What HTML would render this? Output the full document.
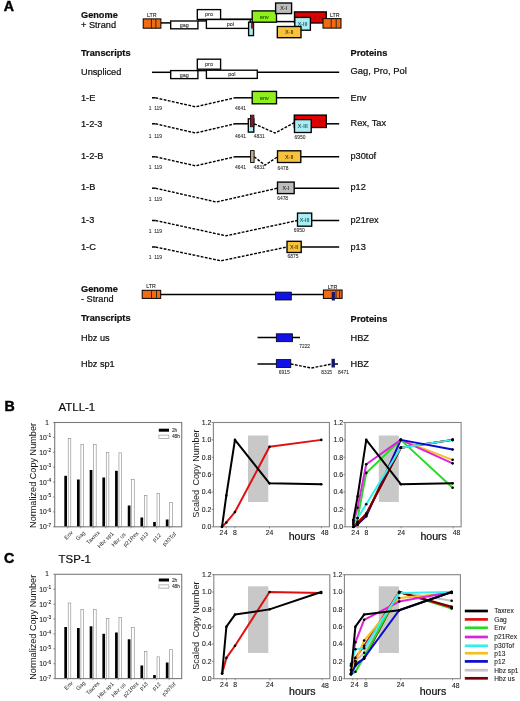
<!DOCTYPE html>
<html><head><meta charset="utf-8"><style>
html,body{margin:0;padding:0;background:#fff;width:520px;height:701px;overflow:hidden;}
svg{display:block;will-change:transform;}
text{font-family:"Liberation Sans", sans-serif;}
</style></head><body>
<svg width="520" height="701" viewBox="0 0 520 701">
<rect x="0" y="0" width="520" height="701" fill="#fff"/>
<text x="3.7" y="11.3" font-size="14.2" font-weight="bold" text-anchor="start" fill="#000"  stroke="#000" stroke-width="0.45">A</text>
<text x="81" y="17.6" font-size="9.2" font-weight="bold" text-anchor="start" fill="#111" stroke="#111" stroke-width="0.22" >Genome</text>
<text x="81" y="27.6" font-size="9.2" font-weight="normal" text-anchor="start" fill="#111" stroke="#111" stroke-width="0.22" >+ Strand</text>
<text x="81" y="56.3" font-size="9.2" font-weight="bold" text-anchor="start" fill="#111" stroke="#111" stroke-width="0.22" >Transcripts</text>
<text x="350.5" y="56.1" font-size="9.2" font-weight="bold" text-anchor="start" fill="#111" stroke="#111" stroke-width="0.22" >Proteins</text>
<line x1="160.9" y1="22.9" x2="170.7" y2="22.9" stroke="#000" stroke-width="1.5" />
<line x1="197.9" y1="20.9" x2="206.4" y2="20.9" stroke="#000" stroke-width="1.5" />
<line x1="220.6" y1="19.3" x2="252.2" y2="19.3" stroke="#000" stroke-width="1.5" />
<line x1="276.5" y1="21.6" x2="295" y2="21.6" stroke="#000" stroke-width="1.5" />
<rect x="143.2" y="18.9" width="17.70" height="9.30" fill="#f26b12" stroke="#000" stroke-width="1.0" />
<line x1="151.4" y1="18.9" x2="151.4" y2="28.2" stroke="#222" stroke-width="0.9" />
<line x1="155.9" y1="18.9" x2="155.9" y2="28.2" stroke="#222" stroke-width="0.9" />
<text x="151.8" y="16.8" font-size="5.3" font-weight="normal" text-anchor="middle" fill="#222" stroke="#222" stroke-width="0.1" >LTR</text>
<rect x="170.7" y="21.0" width="27.20" height="7.80" fill="#fff" stroke="#000" stroke-width="1.35" />
<text x="184.3" y="27.0" font-size="5.4" font-weight="normal" text-anchor="middle" fill="#333" stroke="#333" stroke-width="0.1" >gag</text>
<rect x="197.3" y="9.6" width="23.30" height="9.80" fill="#fff" stroke="#000" stroke-width="1.35" />
<text x="209" y="16.3" font-size="5.4" font-weight="normal" text-anchor="middle" fill="#333" stroke="#333" stroke-width="0.1" >pro</text>
<rect x="206.4" y="19.5" width="43.80" height="8.90" fill="#fff" stroke="#000" stroke-width="1.35" />
<text x="230.3" y="26.2" font-size="5.4" font-weight="normal" text-anchor="middle" fill="#333" stroke="#333" stroke-width="0.1" >pol</text>
<rect x="248.6" y="22.2" width="4.90" height="13.40" fill="#a8eef2" stroke="#000" stroke-width="1.35" />
<rect x="251.0" y="22.2" width="2.50" height="6.40" fill="#801c2c" stroke="none" stroke-width="1.35" />
<rect x="252.2" y="10.9" width="24.30" height="11.30" fill="#90f01c" stroke="#000" stroke-width="1.35" />
<text x="264.3" y="18.6" font-size="5.4" font-weight="normal" text-anchor="middle" fill="#1e4a00" stroke="#1e4a00" stroke-width="0.1" >env</text>
<rect x="275.6" y="3.0" width="16.00" height="10.60" fill="#bdbdbd" stroke="#000" stroke-width="1.35" />
<text x="283.6" y="10.4" font-size="5.4" font-weight="normal" text-anchor="middle" fill="#2a2a2a" stroke="#2a2a2a" stroke-width="0.1" >X-I</text>
<rect x="294.5" y="11.9" width="31.80" height="11.10" fill="#e40000" stroke="#000" stroke-width="1.35" />
<text x="318" y="19.5" font-size="5.4" font-weight="normal" text-anchor="middle" fill="#991111" stroke="#991111" stroke-width="0.1" >X-IV</text>
<rect x="294.8" y="17.4" width="15.60" height="12.80" fill="#a8eef2" stroke="#000" stroke-width="1.35" />
<text x="302.6" y="26.0" font-size="5.4" font-weight="normal" text-anchor="middle" fill="#1c4e60" stroke="#1c4e60" stroke-width="0.1" >X-III</text>
<rect x="277.3" y="26.5" width="23.70" height="11.20" fill="#f7c23e" stroke="#000" stroke-width="1.35" />
<text x="289.2" y="34.2" font-size="5.4" font-weight="normal" text-anchor="middle" fill="#4a3000" stroke="#4a3000" stroke-width="0.1" >X-II</text>
<rect x="323.0" y="18.6" width="18.00" height="9.50" fill="#f26b12" stroke="#000" stroke-width="1.0" />
<line x1="331.2" y1="18.6" x2="331.2" y2="28.1" stroke="#222" stroke-width="0.9" />
<line x1="336.2" y1="18.6" x2="336.2" y2="28.1" stroke="#222" stroke-width="0.9" />
<text x="334.8" y="16.6" font-size="5.3" font-weight="normal" text-anchor="middle" fill="#222" stroke="#222" stroke-width="0.1" >LTR</text>
<text x="81" y="74.8" font-size="9.2" font-weight="normal" text-anchor="start" fill="#111" stroke="#111" stroke-width="0.22" >Unspliced</text>
<line x1="152" y1="72.3" x2="170.7" y2="72.3" stroke="#000" stroke-width="1.5" />
<line x1="206.4" y1="72.3" x2="339.2" y2="72.3" stroke="#000" stroke-width="1.5" />
<rect x="170.7" y="70.6" width="27.20" height="8.00" fill="#fff" stroke="#000" stroke-width="1.35" />
<text x="184.3" y="76.6" font-size="5.4" font-weight="normal" text-anchor="middle" fill="#333" stroke="#333" stroke-width="0.1" >gag</text>
<rect x="197.3" y="59.2" width="23.30" height="10.00" fill="#fff" stroke="#000" stroke-width="1.35" />
<text x="209" y="66" font-size="5.4" font-weight="normal" text-anchor="middle" fill="#333" stroke="#333" stroke-width="0.1" >pro</text>
<line x1="197.9" y1="70.6" x2="206.4" y2="70.6" stroke="#000" stroke-width="1.5" />
<rect x="206.4" y="70.2" width="50.90" height="8.20" fill="#fff" stroke="#000" stroke-width="1.35" />
<text x="231.8" y="76.2" font-size="5.4" font-weight="normal" text-anchor="middle" fill="#333" stroke="#333" stroke-width="0.1" >pol</text>
<text x="350.5" y="74.4" font-size="9.4" font-weight="normal" text-anchor="start" fill="#111" stroke="#111" stroke-width="0.22" >Gag, Pro, Pol</text>
<text x="81" y="101.1" font-size="9.2" font-weight="normal" text-anchor="start" fill="#111" stroke="#111" stroke-width="0.22" >1-E</text>
<line x1="152" y1="97.8" x2="155.5" y2="97.8" stroke="#000" stroke-width="1.5" />
<polyline points="155.50,97.80 195.50,106.80 235.00,97.80" fill="none" stroke="#000" stroke-width="1.4" stroke-dasharray="2.8,1.4"/>
<text x="148.8" y="110.39999999999999" font-size="4.9" font-weight="normal" text-anchor="start" fill="#333" stroke="#333" stroke-width="0.1" >1&#160;&#160;119</text>
<line x1="235" y1="97.8" x2="252.2" y2="97.8" stroke="#000" stroke-width="1.5" />
<line x1="276.5" y1="97.8" x2="339.2" y2="97.8" stroke="#000" stroke-width="1.5" />
<rect x="252.2" y="91.4" width="24.30" height="12.40" fill="#90f01c" stroke="#000" stroke-width="1.35" />
<text x="264.3" y="99.7" font-size="5.4" font-weight="normal" text-anchor="middle" fill="#1e4a00" stroke="#1e4a00" stroke-width="0.1" >env</text>
<text x="235" y="110.39999999999999" font-size="4.9" font-weight="normal" text-anchor="start" fill="#333" stroke="#333" stroke-width="0.1" >4641</text>
<text x="350.5" y="100.6" font-size="9.2" font-weight="normal" text-anchor="start" fill="#111" stroke="#111" stroke-width="0.22" >Env</text>
<text x="81" y="126.9" font-size="9.2" font-weight="normal" text-anchor="start" fill="#111" stroke="#111" stroke-width="0.22" >1-2-3</text>
<line x1="152" y1="123.8" x2="155.5" y2="123.8" stroke="#000" stroke-width="1.5" />
<polyline points="155.50,123.80 195.50,133.00 235.00,123.80" fill="none" stroke="#000" stroke-width="1.4" stroke-dasharray="2.8,1.4"/>
<text x="148.8" y="138.0" font-size="4.9" font-weight="normal" text-anchor="start" fill="#333" stroke="#333" stroke-width="0.1" >1&#160;&#160;119</text>
<line x1="235" y1="123.8" x2="248.3" y2="123.8" stroke="#000" stroke-width="1.5" />
<rect x="248.3" y="118.8" width="5.50" height="13.30" fill="#a8eef2" stroke="#000" stroke-width="1.35" />
<rect x="250.5" y="115.2" width="3.40" height="11.50" fill="#801c2c" stroke="#201010" stroke-width="0.9" />
<polyline points="254.20,123.80 275.00,133.00 294.50,122.60" fill="none" stroke="#000" stroke-width="1.4" stroke-dasharray="2.8,1.4"/>
<rect x="294.3" y="115.1" width="32.00" height="12.40" fill="#e40000" stroke="#000" stroke-width="1.35" />
<text x="318" y="123.2" font-size="5.4" font-weight="normal" text-anchor="middle" fill="#991111" stroke="#991111" stroke-width="0.1" >X-IV</text>
<rect x="294.5" y="119.6" width="16.70" height="12.90" fill="#a8eef2" stroke="#000" stroke-width="1.35" />
<text x="302.8" y="128.3" font-size="5.4" font-weight="normal" text-anchor="middle" fill="#1c4e60" stroke="#1c4e60" stroke-width="0.1" >X-III</text>
<line x1="326.3" y1="123.8" x2="339.2" y2="123.8" stroke="#000" stroke-width="1.5" />
<text x="235" y="138.0" font-size="4.9" font-weight="normal" text-anchor="start" fill="#333" stroke="#333" stroke-width="0.1" >4641</text>
<text x="253.8" y="138.0" font-size="4.9" font-weight="normal" text-anchor="start" fill="#333" stroke="#333" stroke-width="0.1" >4831</text>
<text x="294.5" y="138.8" font-size="4.9" font-weight="normal" text-anchor="start" fill="#333" stroke="#333" stroke-width="0.1" >6950</text>
<text x="350.5" y="126.4" font-size="9.2" font-weight="normal" text-anchor="start" fill="#111" stroke="#111" stroke-width="0.22" >Rex, Tax</text>
<text x="81" y="159.0" font-size="9.2" font-weight="normal" text-anchor="start" fill="#111" stroke="#111" stroke-width="0.22" >1-2-B</text>
<line x1="152" y1="156.8" x2="155.5" y2="156.8" stroke="#000" stroke-width="1.5" />
<polyline points="155.50,156.80 195.50,165.80 235.00,156.80" fill="none" stroke="#000" stroke-width="1.4" stroke-dasharray="2.8,1.4"/>
<text x="148.8" y="169.4" font-size="4.9" font-weight="normal" text-anchor="start" fill="#333" stroke="#333" stroke-width="0.1" >1&#160;&#160;119</text>
<line x1="235" y1="156.8" x2="250.8" y2="156.8" stroke="#000" stroke-width="1.5" />
<rect x="250.6" y="150.6" width="3.50" height="11.90" fill="#c4b088" stroke="#000" stroke-width="0.9" />
<polyline points="254.20,156.80 265.00,165.20 277.50,156.80" fill="none" stroke="#000" stroke-width="1.4" stroke-dasharray="2.8,1.4"/>
<rect x="277.5" y="150.8" width="23.30" height="11.70" fill="#f7c23e" stroke="#000" stroke-width="1.35" />
<text x="289.2" y="158.6" font-size="5.4" font-weight="normal" text-anchor="middle" fill="#4a3000" stroke="#4a3000" stroke-width="0.1" >X-II</text>
<line x1="300.8" y1="156.8" x2="339.2" y2="156.8" stroke="#000" stroke-width="1.5" />
<text x="235" y="169.4" font-size="4.9" font-weight="normal" text-anchor="start" fill="#333" stroke="#333" stroke-width="0.1" >4641</text>
<text x="253.8" y="169.4" font-size="4.9" font-weight="normal" text-anchor="start" fill="#333" stroke="#333" stroke-width="0.1" >4831</text>
<text x="277.5" y="169.8" font-size="4.9" font-weight="normal" text-anchor="start" fill="#333" stroke="#333" stroke-width="0.1" >6478</text>
<text x="350.5" y="159.2" font-size="9.2" font-weight="normal" text-anchor="start" fill="#111" stroke="#111" stroke-width="0.22" >p30tof</text>
<text x="81" y="189.9" font-size="9.2" font-weight="normal" text-anchor="start" fill="#111" stroke="#111" stroke-width="0.22" >1-B</text>
<line x1="152" y1="188.2" x2="155.5" y2="188.2" stroke="#000" stroke-width="1.5" />
<polyline points="155.50,188.20 216.30,202.00 277.50,188.20" fill="none" stroke="#000" stroke-width="1.4" stroke-dasharray="2.8,1.4"/>
<text x="148.8" y="201.0" font-size="4.9" font-weight="normal" text-anchor="start" fill="#333" stroke="#333" stroke-width="0.1" >1&#160;&#160;119</text>
<rect x="277.5" y="182.1" width="16.70" height="11.50" fill="#bdbdbd" stroke="#000" stroke-width="1.35" />
<text x="285.9" y="190.0" font-size="5.4" font-weight="normal" text-anchor="middle" fill="#2a2a2a" stroke="#2a2a2a" stroke-width="0.1" >X-I</text>
<line x1="294.2" y1="188.2" x2="339.2" y2="188.2" stroke="#000" stroke-width="1.5" />
<text x="277.2" y="199.9" font-size="4.9" font-weight="normal" text-anchor="start" fill="#333" stroke="#333" stroke-width="0.1" >6478</text>
<text x="350.5" y="190.1" font-size="9.2" font-weight="normal" text-anchor="start" fill="#111" stroke="#111" stroke-width="0.22" >p12</text>
<text x="81" y="223.3" font-size="9.2" font-weight="normal" text-anchor="start" fill="#111" stroke="#111" stroke-width="0.22" >1-3</text>
<line x1="152" y1="220.5" x2="155.5" y2="220.5" stroke="#000" stroke-width="1.5" />
<polyline points="155.50,220.50 226.00,235.80 297.50,220.50" fill="none" stroke="#000" stroke-width="1.4" stroke-dasharray="2.8,1.4"/>
<text x="148.8" y="233.1" font-size="4.9" font-weight="normal" text-anchor="start" fill="#333" stroke="#333" stroke-width="0.1" >1&#160;&#160;119</text>
<rect x="297.5" y="213.1" width="14.20" height="13.10" fill="#a8eef2" stroke="#000" stroke-width="1.35" />
<text x="304.6" y="221.8" font-size="5.4" font-weight="normal" text-anchor="middle" fill="#1c4e60" stroke="#1c4e60" stroke-width="0.1" >X-III</text>
<line x1="311.7" y1="220.5" x2="339.2" y2="220.5" stroke="#000" stroke-width="1.5" />
<text x="293.8" y="232.4" font-size="4.9" font-weight="normal" text-anchor="start" fill="#333" stroke="#333" stroke-width="0.1" >6950</text>
<text x="350.5" y="223.3" font-size="9.2" font-weight="normal" text-anchor="start" fill="#111" stroke="#111" stroke-width="0.22" >p21rex</text>
<text x="81" y="250.3" font-size="9.2" font-weight="normal" text-anchor="start" fill="#111" stroke="#111" stroke-width="0.22" >1-C</text>
<line x1="152" y1="247" x2="155.5" y2="247" stroke="#000" stroke-width="1.5" />
<polyline points="155.50,247.00 221.00,260.80 287.00,247.00" fill="none" stroke="#000" stroke-width="1.4" stroke-dasharray="2.8,1.4"/>
<text x="148.8" y="258.7" font-size="4.9" font-weight="normal" text-anchor="start" fill="#333" stroke="#333" stroke-width="0.1" >1&#160;&#160;119</text>
<rect x="287" y="241.3" width="14.20" height="11.20" fill="#f7c23e" stroke="#000" stroke-width="1.35" />
<text x="294.1" y="249.0" font-size="5.4" font-weight="normal" text-anchor="middle" fill="#4a3000" stroke="#4a3000" stroke-width="0.1" >X-II</text>
<line x1="301.2" y1="247" x2="339.2" y2="247" stroke="#000" stroke-width="1.5" />
<text x="287.5" y="258.2" font-size="4.9" font-weight="normal" text-anchor="start" fill="#333" stroke="#333" stroke-width="0.1" >6875</text>
<text x="350.5" y="249.9" font-size="9.2" font-weight="normal" text-anchor="start" fill="#111" stroke="#111" stroke-width="0.22" >p13</text>
<text x="81" y="291.8" font-size="9.2" font-weight="bold" text-anchor="start" fill="#111" stroke="#111" stroke-width="0.22" >Genome</text>
<text x="81" y="302" font-size="9.2" font-weight="normal" text-anchor="start" fill="#111" stroke="#111" stroke-width="0.22" >- Strand</text>
<text x="81" y="321.3" font-size="9.2" font-weight="bold" text-anchor="start" fill="#111" stroke="#111" stroke-width="0.22" >Transcripts</text>
<text x="350.5" y="322" font-size="9.2" font-weight="bold" text-anchor="start" fill="#111" stroke="#111" stroke-width="0.22" >Proteins</text>
<line x1="160.5" y1="294.6" x2="323.8" y2="294.6" stroke="#000" stroke-width="1.5" />
<rect x="142.2" y="290.3" width="18.50" height="8.10" fill="#f26b12" stroke="#000" stroke-width="1.0" />
<line x1="151.5" y1="290.3" x2="151.5" y2="298.4" stroke="#222" stroke-width="0.9" />
<line x1="156.5" y1="290.3" x2="156.5" y2="298.4" stroke="#222" stroke-width="0.9" />
<text x="151.0" y="288.4" font-size="5.3" font-weight="normal" text-anchor="middle" fill="#222" stroke="#222" stroke-width="0.1" >LTR</text>
<rect x="275.5" y="292.1" width="15.80" height="7.90" fill="#1212e6" stroke="#000" stroke-width="0.8" />
<rect x="323.4" y="290.0" width="18.70" height="8.40" fill="#f26b12" stroke="#000" stroke-width="1.0" />
<line x1="336.0" y1="290.0" x2="336.0" y2="298.4" stroke="#222" stroke-width="0.9" />
<line x1="339.6" y1="290.0" x2="339.6" y2="298.4" stroke="#222" stroke-width="0.9" />
<rect x="331.7" y="292" width="3.20" height="8.50" fill="#141470" stroke="none" stroke-width="1.35" />
<text x="332.5" y="288.6" font-size="5.3" font-weight="normal" text-anchor="middle" fill="#222" stroke="#222" stroke-width="0.1" >LTR</text>
<text x="81" y="341.3" font-size="9.2" font-weight="normal" text-anchor="start" fill="#111" stroke="#111" stroke-width="0.22" >Hbz us</text>
<line x1="257.5" y1="337.6" x2="300" y2="337.6" stroke="#000" stroke-width="1.5" />
<rect x="276.3" y="333.8" width="16.20" height="7.90" fill="#1212e6" stroke="#000" stroke-width="0.8" />
<text x="299.2" y="347.9" font-size="4.9" font-weight="normal" text-anchor="start" fill="#333" stroke="#333" stroke-width="0.1" >7222</text>
<text x="350.5" y="340.8" font-size="9.2" font-weight="normal" text-anchor="start" fill="#111" stroke="#111" stroke-width="0.22" >HBZ</text>
<text x="81" y="367" font-size="9.2" font-weight="normal" text-anchor="start" fill="#111" stroke="#111" stroke-width="0.22" >Hbz sp1</text>
<line x1="257.5" y1="364" x2="276.3" y2="364" stroke="#000" stroke-width="1.5" />
<rect x="276.3" y="359.6" width="14.50" height="7.90" fill="#1212e6" stroke="#000" stroke-width="0.8" />
<polyline points="290.80,364.00 311.30,368.00 332.00,364.00" fill="none" stroke="#000" stroke-width="1.4" stroke-dasharray="2.8,1.4"/>
<rect x="331.5" y="358.8" width="3.40" height="8.70" fill="#141470" stroke="none" stroke-width="1.35" />
<line x1="334.6" y1="364" x2="338" y2="364" stroke="#000" stroke-width="1.5" />
<text x="278.8" y="373.8" font-size="4.9" font-weight="normal" text-anchor="start" fill="#333" stroke="#333" stroke-width="0.1" >6915</text>
<text x="321.2" y="373.8" font-size="4.9" font-weight="normal" text-anchor="start" fill="#333" stroke="#333" stroke-width="0.1" >8315</text>
<text x="338" y="373.8" font-size="4.9" font-weight="normal" text-anchor="start" fill="#333" stroke="#333" stroke-width="0.1" >8471</text>
<text x="350.5" y="367.1" font-size="9.2" font-weight="normal" text-anchor="start" fill="#111" stroke="#111" stroke-width="0.22" >HBZ</text>
<text x="4.4" y="411.0" font-size="14.2" font-weight="bold" text-anchor="start" fill="#000"  stroke="#000" stroke-width="0.45">B</text>
<text x="58.6" y="411.2" font-size="11.4" font-weight="normal" text-anchor="start" fill="#111" stroke="#111" stroke-width="0.22" >ATLL-1</text>
<rect x="64.3" y="475.8" width="2.70" height="51.00" fill="#000" stroke="none" stroke-width="1.35" />
<rect x="68.2" y="438.3" width="2.60" height="88.50" fill="#fff" stroke="#888" stroke-width="0.6" />
<rect x="76.99" y="479.5" width="2.70" height="47.30" fill="#000" stroke="none" stroke-width="1.35" />
<rect x="80.89" y="444.3" width="2.60" height="82.50" fill="#fff" stroke="#888" stroke-width="0.6" />
<rect x="89.67999999999999" y="470.0" width="2.70" height="56.80" fill="#000" stroke="none" stroke-width="1.35" />
<rect x="93.58" y="444.5" width="2.60" height="82.30" fill="#fff" stroke="#888" stroke-width="0.6" />
<rect x="102.37" y="477.5" width="2.70" height="49.30" fill="#000" stroke="none" stroke-width="1.35" />
<rect x="106.27000000000001" y="452.3" width="2.60" height="74.50" fill="#fff" stroke="#888" stroke-width="0.6" />
<rect x="115.06" y="470.8" width="2.70" height="56.00" fill="#000" stroke="none" stroke-width="1.35" />
<rect x="118.96000000000001" y="452.8" width="2.60" height="74.00" fill="#fff" stroke="#888" stroke-width="0.6" />
<rect x="127.75" y="505.5" width="2.70" height="21.30" fill="#000" stroke="none" stroke-width="1.35" />
<rect x="131.65" y="479.5" width="2.60" height="47.30" fill="#fff" stroke="#888" stroke-width="0.6" />
<rect x="140.44" y="517.5" width="2.70" height="9.30" fill="#000" stroke="none" stroke-width="1.35" />
<rect x="144.34" y="495.5" width="2.60" height="31.30" fill="#fff" stroke="#888" stroke-width="0.6" />
<rect x="153.13" y="522.0" width="2.70" height="4.80" fill="#000" stroke="none" stroke-width="1.35" />
<rect x="157.03" y="493.3" width="2.60" height="33.50" fill="#fff" stroke="#888" stroke-width="0.6" />
<rect x="165.82" y="519.5" width="2.70" height="7.30" fill="#000" stroke="none" stroke-width="1.35" />
<rect x="169.72" y="502.5" width="2.60" height="24.30" fill="#fff" stroke="#888" stroke-width="0.6" />
<rect x="54.7" y="422.5" width="127.00" height="104.30" fill="none" stroke="#7a7a7a" stroke-width="1.1" />
<line x1="67.6" y1="526.8" x2="67.6" y2="528.4" stroke="#666" stroke-width="0.6" />
<line x1="80.28999999999999" y1="526.8" x2="80.28999999999999" y2="528.4" stroke="#666" stroke-width="0.6" />
<line x1="92.97999999999999" y1="526.8" x2="92.97999999999999" y2="528.4" stroke="#666" stroke-width="0.6" />
<line x1="105.67" y1="526.8" x2="105.67" y2="528.4" stroke="#666" stroke-width="0.6" />
<line x1="118.36" y1="526.8" x2="118.36" y2="528.4" stroke="#666" stroke-width="0.6" />
<line x1="131.05" y1="526.8" x2="131.05" y2="528.4" stroke="#666" stroke-width="0.6" />
<line x1="143.74" y1="526.8" x2="143.74" y2="528.4" stroke="#666" stroke-width="0.6" />
<line x1="156.43" y1="526.8" x2="156.43" y2="528.4" stroke="#666" stroke-width="0.6" />
<line x1="169.12" y1="526.8" x2="169.12" y2="528.4" stroke="#666" stroke-width="0.6" />
<line x1="52.900000000000006" y1="422.5" x2="54.7" y2="422.5" stroke="#555" stroke-width="0.6" />
<text x="47.0" y="424.5" font-size="6.4" font-weight="normal" text-anchor="middle" fill="#222" stroke="#222" stroke-width="0.1" >1</text>
<line x1="52.900000000000006" y1="437.4" x2="54.7" y2="437.4" stroke="#555" stroke-width="0.6" />
<text x="39.3" y="439.9" font-size="6.8" font-weight="normal" text-anchor="start" fill="#222" stroke="#222" stroke-width="0.1" >10<tspan dy="-2.6" font-size="4.8">-1</tspan></text>
<line x1="52.900000000000006" y1="452.3" x2="54.7" y2="452.3" stroke="#555" stroke-width="0.6" />
<text x="39.3" y="454.8" font-size="6.8" font-weight="normal" text-anchor="start" fill="#222" stroke="#222" stroke-width="0.1" >10<tspan dy="-2.6" font-size="4.8">-2</tspan></text>
<line x1="52.900000000000006" y1="467.2" x2="54.7" y2="467.2" stroke="#555" stroke-width="0.6" />
<text x="39.3" y="469.7" font-size="6.8" font-weight="normal" text-anchor="start" fill="#222" stroke="#222" stroke-width="0.1" >10<tspan dy="-2.6" font-size="4.8">-3</tspan></text>
<line x1="52.900000000000006" y1="482.09999999999997" x2="54.7" y2="482.09999999999997" stroke="#555" stroke-width="0.6" />
<text x="39.3" y="484.59999999999997" font-size="6.8" font-weight="normal" text-anchor="start" fill="#222" stroke="#222" stroke-width="0.1" >10<tspan dy="-2.6" font-size="4.8">-4</tspan></text>
<line x1="52.900000000000006" y1="497.0" x2="54.7" y2="497.0" stroke="#555" stroke-width="0.6" />
<text x="39.3" y="499.5" font-size="6.8" font-weight="normal" text-anchor="start" fill="#222" stroke="#222" stroke-width="0.1" >10<tspan dy="-2.6" font-size="4.8">-5</tspan></text>
<line x1="52.900000000000006" y1="511.9" x2="54.7" y2="511.9" stroke="#555" stroke-width="0.6" />
<text x="39.3" y="514.4" font-size="6.8" font-weight="normal" text-anchor="start" fill="#222" stroke="#222" stroke-width="0.1" >10<tspan dy="-2.6" font-size="4.8">-6</tspan></text>
<line x1="52.900000000000006" y1="526.8" x2="54.7" y2="526.8" stroke="#555" stroke-width="0.6" />
<text x="39.3" y="529.3" font-size="6.8" font-weight="normal" text-anchor="start" fill="#222" stroke="#222" stroke-width="0.1" >10<tspan dy="-2.6" font-size="4.8">-7</tspan></text>
<rect x="158.8" y="428.7" width="10.20" height="3.00" fill="#000" stroke="none" stroke-width="1.35" />
<text x="171.9" y="432.2" font-size="4.9" font-weight="normal" text-anchor="start" fill="#333" stroke="#333" stroke-width="0.1" >2h</text>
<rect x="158.9" y="435.1" width="10.00" height="3.20" fill="#fff" stroke="#888" stroke-width="0.6" />
<text x="171.9" y="438.0" font-size="4.9" font-weight="normal" text-anchor="start" fill="#333" stroke="#333" stroke-width="0.1" >48h</text>
<text x="68.5" y="535.1" dy="2.0" font-size="5.6" text-anchor="middle" fill="#222" transform="rotate(-45 68.5 535.1)">Env</text>
<text x="80.4" y="535.7" dy="2.0" font-size="5.6" text-anchor="middle" fill="#222" transform="rotate(-45 80.4 535.7)">Gag</text>
<text x="93.0" y="537.4" dy="2.0" font-size="5.6" text-anchor="middle" fill="#222" transform="rotate(-45 93.0 537.4)">Taxrex</text>
<text x="105.5" y="539.8" dy="2.0" font-size="5.6" text-anchor="middle" fill="#222" transform="rotate(-45 105.5 539.8)">Hbz sp1</text>
<text x="118.5" y="539.5" dy="2.0" font-size="5.6" text-anchor="middle" fill="#222" transform="rotate(-45 118.5 539.5)">Hbz us</text>
<text x="130.8" y="539.1" dy="2.0" font-size="5.6" text-anchor="middle" fill="#222" transform="rotate(-45 130.8 539.1)">p21Rex</text>
<text x="143.9" y="536.2" dy="2.0" font-size="5.6" text-anchor="middle" fill="#222" transform="rotate(-45 143.9 536.2)">p13</text>
<text x="156.7" y="537.5" dy="2.0" font-size="5.6" text-anchor="middle" fill="#222" transform="rotate(-45 156.7 537.5)">p12</text>
<text x="169.2" y="539.1" dy="2.0" font-size="5.6" text-anchor="middle" fill="#222" transform="rotate(-45 169.2 539.1)">p30Tof</text>
<text x="32.8" y="475.45" font-size="9.15" text-anchor="middle" fill="#111" transform="rotate(-90 32.8 475.45)" dy="3.1">Normalized Copy Number</text>
<rect x="213.4" y="422.5" width="116.00" height="104.30" fill="none" stroke="#858585" stroke-width="1.1" />
<rect x="248.0" y="435.5" width="20.30" height="66.50" fill="#c8c8c8" stroke="none" stroke-width="1.35" />
<line x1="211.6" y1="526.8" x2="213.4" y2="526.8" stroke="#555" stroke-width="0.6" />
<text x="211.3" y="529.1999999999999" font-size="6.9" font-weight="normal" text-anchor="end" fill="#222" stroke="#222" stroke-width="0.1" >0.0</text>
<line x1="211.6" y1="509.41666666666663" x2="213.4" y2="509.41666666666663" stroke="#555" stroke-width="0.6" />
<text x="211.3" y="511.8166666666666" font-size="6.9" font-weight="normal" text-anchor="end" fill="#222" stroke="#222" stroke-width="0.1" >0.2</text>
<line x1="211.6" y1="492.0333333333333" x2="213.4" y2="492.0333333333333" stroke="#555" stroke-width="0.6" />
<text x="211.3" y="494.4333333333333" font-size="6.9" font-weight="normal" text-anchor="end" fill="#222" stroke="#222" stroke-width="0.1" >0.4</text>
<line x1="211.6" y1="474.65" x2="213.4" y2="474.65" stroke="#555" stroke-width="0.6" />
<text x="211.3" y="477.04999999999995" font-size="6.9" font-weight="normal" text-anchor="end" fill="#222" stroke="#222" stroke-width="0.1" >0.6</text>
<line x1="211.6" y1="457.26666666666665" x2="213.4" y2="457.26666666666665" stroke="#555" stroke-width="0.6" />
<text x="211.3" y="459.66666666666663" font-size="6.9" font-weight="normal" text-anchor="end" fill="#222" stroke="#222" stroke-width="0.1" >0.8</text>
<line x1="211.6" y1="439.8833333333333" x2="213.4" y2="439.8833333333333" stroke="#555" stroke-width="0.6" />
<text x="211.3" y="442.2833333333333" font-size="6.9" font-weight="normal" text-anchor="end" fill="#222" stroke="#222" stroke-width="0.1" >1.0</text>
<line x1="211.6" y1="422.5" x2="213.4" y2="422.5" stroke="#555" stroke-width="0.6" />
<text x="211.3" y="424.9" font-size="6.9" font-weight="normal" text-anchor="end" fill="#222" stroke="#222" stroke-width="0.1" >1.2</text>
<line x1="221.8" y1="526.8" x2="221.8" y2="528.4" stroke="#555" stroke-width="0.6" />
<line x1="226.13600000000002" y1="526.8" x2="226.13600000000002" y2="528.4" stroke="#555" stroke-width="0.6" />
<line x1="234.80800000000002" y1="526.8" x2="234.80800000000002" y2="528.4" stroke="#555" stroke-width="0.6" />
<line x1="269.49600000000004" y1="526.8" x2="269.49600000000004" y2="528.4" stroke="#555" stroke-width="0.6" />
<line x1="321.528" y1="526.8" x2="321.528" y2="528.4" stroke="#555" stroke-width="0.6" />
<text x="221.4" y="535.0999999999999" font-size="6.8" font-weight="normal" text-anchor="middle" fill="#222" stroke="#222" stroke-width="0.1" >2</text>
<text x="225.93600000000004" y="535.0999999999999" font-size="6.8" font-weight="normal" text-anchor="middle" fill="#222" stroke="#222" stroke-width="0.1" >4</text>
<text x="234.80800000000002" y="535.0999999999999" font-size="6.8" font-weight="normal" text-anchor="middle" fill="#222" stroke="#222" stroke-width="0.1" >8</text>
<text x="269.49600000000004" y="535.0999999999999" font-size="6.8" font-weight="normal" text-anchor="middle" fill="#222" stroke="#222" stroke-width="0.1" >24</text>
<text x="324.728" y="535.0999999999999" font-size="6.8" font-weight="normal" text-anchor="middle" fill="#222" stroke="#222" stroke-width="0.1" >48</text>
<text x="288.7" y="540.4" font-size="10.6" font-weight="normal" text-anchor="start" fill="#111" stroke="#111" stroke-width="0.22" >hours</text>
<polyline points="222.00,526.80 226.32,522.45 234.95,512.02 269.48,446.84 321.27,439.88" fill="none" stroke="#e01010" stroke-width="2.0" stroke-linejoin="round"/>
<polyline points="222.00,526.80 226.32,495.51 234.95,439.88 269.48,483.34 321.27,484.21" fill="none" stroke="#000" stroke-width="2.0" stroke-linejoin="round"/>
<circle cx="222.00" cy="526.80" r="1.3" fill="#000"/>
<circle cx="226.32" cy="522.45" r="1.3" fill="#000"/>
<circle cx="234.95" cy="512.02" r="1.3" fill="#000"/>
<circle cx="269.48" cy="446.84" r="1.3" fill="#000"/>
<circle cx="321.27" cy="439.88" r="1.3" fill="#000"/>
<circle cx="222.00" cy="526.80" r="1.3" fill="#000"/>
<circle cx="226.32" cy="495.51" r="1.3" fill="#000"/>
<circle cx="234.95" cy="439.88" r="1.3" fill="#000"/>
<circle cx="269.48" cy="483.34" r="1.3" fill="#000"/>
<circle cx="321.27" cy="484.21" r="1.3" fill="#000"/>
<text x="195.4" y="473.55" font-size="9.1" text-anchor="middle" fill="#1a1a1a" transform="rotate(-90 195.4 473.55)" dy="3.2">Scaled&#8201; Copy Number</text>
<rect x="345.1" y="422.5" width="116.00" height="104.30" fill="none" stroke="#858585" stroke-width="1.1" />
<rect x="378.8" y="435.5" width="20.00" height="66.50" fill="#c8c8c8" stroke="none" stroke-width="1.35" />
<line x1="343.3" y1="526.8" x2="345.1" y2="526.8" stroke="#555" stroke-width="0.6" />
<text x="343.0" y="529.1999999999999" font-size="6.9" font-weight="normal" text-anchor="end" fill="#222" stroke="#222" stroke-width="0.1" >0.0</text>
<line x1="343.3" y1="509.41666666666663" x2="345.1" y2="509.41666666666663" stroke="#555" stroke-width="0.6" />
<text x="343.0" y="511.8166666666666" font-size="6.9" font-weight="normal" text-anchor="end" fill="#222" stroke="#222" stroke-width="0.1" >0.2</text>
<line x1="343.3" y1="492.0333333333333" x2="345.1" y2="492.0333333333333" stroke="#555" stroke-width="0.6" />
<text x="343.0" y="494.4333333333333" font-size="6.9" font-weight="normal" text-anchor="end" fill="#222" stroke="#222" stroke-width="0.1" >0.4</text>
<line x1="343.3" y1="474.65" x2="345.1" y2="474.65" stroke="#555" stroke-width="0.6" />
<text x="343.0" y="477.04999999999995" font-size="6.9" font-weight="normal" text-anchor="end" fill="#222" stroke="#222" stroke-width="0.1" >0.6</text>
<line x1="343.3" y1="457.26666666666665" x2="345.1" y2="457.26666666666665" stroke="#555" stroke-width="0.6" />
<text x="343.0" y="459.66666666666663" font-size="6.9" font-weight="normal" text-anchor="end" fill="#222" stroke="#222" stroke-width="0.1" >0.8</text>
<line x1="343.3" y1="439.8833333333333" x2="345.1" y2="439.8833333333333" stroke="#555" stroke-width="0.6" />
<text x="343.0" y="442.2833333333333" font-size="6.9" font-weight="normal" text-anchor="end" fill="#222" stroke="#222" stroke-width="0.1" >1.0</text>
<line x1="343.3" y1="422.5" x2="345.1" y2="422.5" stroke="#555" stroke-width="0.6" />
<text x="343.0" y="424.9" font-size="6.9" font-weight="normal" text-anchor="end" fill="#222" stroke="#222" stroke-width="0.1" >1.2</text>
<line x1="353.5" y1="526.8" x2="353.5" y2="528.4" stroke="#555" stroke-width="0.6" />
<line x1="357.836" y1="526.8" x2="357.836" y2="528.4" stroke="#555" stroke-width="0.6" />
<line x1="366.508" y1="526.8" x2="366.508" y2="528.4" stroke="#555" stroke-width="0.6" />
<line x1="401.196" y1="526.8" x2="401.196" y2="528.4" stroke="#555" stroke-width="0.6" />
<line x1="453.228" y1="526.8" x2="453.228" y2="528.4" stroke="#555" stroke-width="0.6" />
<text x="353.1" y="535.0999999999999" font-size="6.8" font-weight="normal" text-anchor="middle" fill="#222" stroke="#222" stroke-width="0.1" >2</text>
<text x="357.636" y="535.0999999999999" font-size="6.8" font-weight="normal" text-anchor="middle" fill="#222" stroke="#222" stroke-width="0.1" >4</text>
<text x="366.508" y="535.0999999999999" font-size="6.8" font-weight="normal" text-anchor="middle" fill="#222" stroke="#222" stroke-width="0.1" >8</text>
<text x="401.196" y="535.0999999999999" font-size="6.8" font-weight="normal" text-anchor="middle" fill="#222" stroke="#222" stroke-width="0.1" >24</text>
<text x="456.428" y="535.0999999999999" font-size="6.8" font-weight="normal" text-anchor="middle" fill="#222" stroke="#222" stroke-width="0.1" >48</text>
<text x="420.40000000000003" y="540.4" font-size="10.6" font-weight="normal" text-anchor="start" fill="#111" stroke="#111" stroke-width="0.22" >hours</text>
<polyline points="353.30,526.80 357.62,524.19 366.25,513.76 400.80,447.71" fill="none" stroke="#c4c4c4" stroke-width="2.0" stroke-linejoin="round"/>
<polyline points="353.30,524.19 357.62,521.58 366.25,514.63 400.80,439.88" fill="none" stroke="#f4c020" stroke-width="2.0" stroke-linejoin="round"/>
<polyline points="353.30,526.80 357.62,524.19 366.25,516.37 400.80,439.88" fill="none" stroke="#0a0ad0" stroke-width="2.0" stroke-linejoin="round"/>
<polyline points="353.30,526.80 357.62,522.45 366.25,513.76 400.80,447.71" fill="none" stroke="#e01010" stroke-width="2.0" stroke-linejoin="round"/>
<polyline points="353.30,526.80 357.62,524.63 366.25,514.20 400.80,447.71" fill="none" stroke="#740000" stroke-width="2.0" stroke-linejoin="round"/>
<polyline points="353.30,522.45 357.62,518.11 366.25,472.91 400.80,439.88" fill="none" stroke="#22dd22" stroke-width="2.0" stroke-linejoin="round"/>
<polyline points="353.30,522.45 357.62,507.68 366.25,464.22 400.80,439.88" fill="none" stroke="#dd22dd" stroke-width="2.0" stroke-linejoin="round"/>
<polyline points="353.30,520.28 357.62,518.11 366.25,504.20 400.80,447.71" fill="none" stroke="#33eeee" stroke-width="2.0" stroke-linejoin="round"/>
<polyline points="353.30,520.28 357.62,496.38 366.25,439.88 400.80,484.21" fill="none" stroke="#000" stroke-width="2.0" stroke-linejoin="round"/>
<polyline points="400.80,447.71 452.61,439.88" fill="none" stroke="#c4c4c4" stroke-width="2.0" stroke-linecap="round"/>
<polyline points="400.80,447.71 452.61,439.88" fill="none" stroke="#e01010" stroke-width="2.0" stroke-linecap="round"/>
<polyline points="400.80,447.71 452.61,439.88" fill="none" stroke="#740000" stroke-width="2.0" stroke-linecap="round"/>
<polyline points="400.80,439.88 452.61,459.87" fill="none" stroke="#f4c020" stroke-width="2.0" stroke-linecap="round"/>
<polyline points="400.80,439.88 452.61,463.35" fill="none" stroke="#dd22dd" stroke-width="2.0" stroke-linecap="round"/>
<polyline points="400.80,439.88 452.61,487.69" fill="none" stroke="#22dd22" stroke-width="2.0" stroke-linecap="round"/>
<polyline points="400.80,447.71 452.61,439.88" fill="none" stroke="#33eeee" stroke-width="2.0" stroke-linecap="round"/>
<polyline points="400.80,439.88 452.61,449.44" fill="none" stroke="#0a0ad0" stroke-width="2.0" stroke-linecap="round"/>
<polyline points="400.80,484.21 452.61,483.34" fill="none" stroke="#000" stroke-width="2.0" stroke-linecap="round"/>
<circle cx="353.30" cy="526.80" r="1.3" fill="#000"/>
<circle cx="357.62" cy="524.19" r="1.3" fill="#000"/>
<circle cx="366.25" cy="513.76" r="1.3" fill="#000"/>
<circle cx="400.80" cy="447.71" r="1.3" fill="#000"/>
<circle cx="452.61" cy="439.88" r="1.3" fill="#000"/>
<circle cx="353.30" cy="524.19" r="1.3" fill="#000"/>
<circle cx="357.62" cy="521.58" r="1.3" fill="#000"/>
<circle cx="366.25" cy="514.63" r="1.3" fill="#000"/>
<circle cx="400.80" cy="439.88" r="1.3" fill="#000"/>
<circle cx="452.61" cy="459.87" r="1.3" fill="#000"/>
<circle cx="353.30" cy="526.80" r="1.3" fill="#000"/>
<circle cx="357.62" cy="524.19" r="1.3" fill="#000"/>
<circle cx="366.25" cy="516.37" r="1.3" fill="#000"/>
<circle cx="400.80" cy="439.88" r="1.3" fill="#000"/>
<circle cx="452.61" cy="449.44" r="1.3" fill="#000"/>
<circle cx="353.30" cy="526.80" r="1.3" fill="#000"/>
<circle cx="357.62" cy="522.45" r="1.3" fill="#000"/>
<circle cx="366.25" cy="513.76" r="1.3" fill="#000"/>
<circle cx="400.80" cy="447.71" r="1.3" fill="#000"/>
<circle cx="452.61" cy="439.88" r="1.3" fill="#000"/>
<circle cx="353.30" cy="526.80" r="1.3" fill="#000"/>
<circle cx="357.62" cy="524.63" r="1.3" fill="#000"/>
<circle cx="366.25" cy="514.20" r="1.3" fill="#000"/>
<circle cx="400.80" cy="447.71" r="1.3" fill="#000"/>
<circle cx="452.61" cy="439.88" r="1.3" fill="#000"/>
<circle cx="353.30" cy="522.45" r="1.3" fill="#000"/>
<circle cx="357.62" cy="518.11" r="1.3" fill="#000"/>
<circle cx="366.25" cy="472.91" r="1.3" fill="#000"/>
<circle cx="400.80" cy="439.88" r="1.3" fill="#000"/>
<circle cx="452.61" cy="487.69" r="1.3" fill="#000"/>
<circle cx="353.30" cy="522.45" r="1.3" fill="#000"/>
<circle cx="357.62" cy="507.68" r="1.3" fill="#000"/>
<circle cx="366.25" cy="464.22" r="1.3" fill="#000"/>
<circle cx="400.80" cy="439.88" r="1.3" fill="#000"/>
<circle cx="452.61" cy="463.35" r="1.3" fill="#000"/>
<circle cx="353.30" cy="520.28" r="1.3" fill="#000"/>
<circle cx="357.62" cy="518.11" r="1.3" fill="#000"/>
<circle cx="366.25" cy="504.20" r="1.3" fill="#000"/>
<circle cx="400.80" cy="447.71" r="1.3" fill="#000"/>
<circle cx="452.61" cy="439.88" r="1.3" fill="#000"/>
<circle cx="353.30" cy="520.28" r="1.3" fill="#000"/>
<circle cx="357.62" cy="496.38" r="1.3" fill="#000"/>
<circle cx="366.25" cy="439.88" r="1.3" fill="#000"/>
<circle cx="400.80" cy="484.21" r="1.3" fill="#000"/>
<circle cx="452.61" cy="483.34" r="1.3" fill="#000"/>
<text x="4.0" y="563.2" font-size="14.2" font-weight="bold" text-anchor="start" fill="#000"  stroke="#000" stroke-width="0.45">C</text>
<text x="58.6" y="563.0" font-size="11.4" font-weight="normal" text-anchor="start" fill="#111" stroke="#111" stroke-width="0.22" >TSP-1</text>
<rect x="64.3" y="627.0" width="2.70" height="51.60" fill="#000" stroke="none" stroke-width="1.35" />
<rect x="68.2" y="603.0" width="2.60" height="75.60" fill="#fff" stroke="#888" stroke-width="0.6" />
<rect x="76.99" y="628.0" width="2.70" height="50.60" fill="#000" stroke="none" stroke-width="1.35" />
<rect x="80.89" y="609.3" width="2.60" height="69.30" fill="#fff" stroke="#888" stroke-width="0.6" />
<rect x="89.67999999999999" y="626.3" width="2.70" height="52.30" fill="#000" stroke="none" stroke-width="1.35" />
<rect x="93.58" y="609.5" width="2.60" height="69.10" fill="#fff" stroke="#888" stroke-width="0.6" />
<rect x="102.37" y="633.8" width="2.70" height="44.80" fill="#000" stroke="none" stroke-width="1.35" />
<rect x="106.27000000000001" y="618.3" width="2.60" height="60.30" fill="#fff" stroke="#888" stroke-width="0.6" />
<rect x="115.06" y="632.5" width="2.70" height="46.10" fill="#000" stroke="none" stroke-width="1.35" />
<rect x="118.96000000000001" y="617.5" width="2.60" height="61.10" fill="#fff" stroke="#888" stroke-width="0.6" />
<rect x="127.75" y="639.3" width="2.70" height="39.30" fill="#000" stroke="none" stroke-width="1.35" />
<rect x="131.65" y="627.5" width="2.60" height="51.10" fill="#fff" stroke="#888" stroke-width="0.6" />
<rect x="140.44" y="665.5" width="2.70" height="13.10" fill="#000" stroke="none" stroke-width="1.35" />
<rect x="144.34" y="651.3" width="2.60" height="27.30" fill="#fff" stroke="#888" stroke-width="0.6" />
<rect x="153.13" y="675.0" width="2.70" height="3.60" fill="#000" stroke="none" stroke-width="1.35" />
<rect x="157.03" y="656.8" width="2.60" height="21.80" fill="#fff" stroke="#888" stroke-width="0.6" />
<rect x="165.82" y="662.5" width="2.70" height="16.10" fill="#000" stroke="none" stroke-width="1.35" />
<rect x="169.72" y="649.5" width="2.60" height="29.10" fill="#fff" stroke="#888" stroke-width="0.6" />
<rect x="55.1" y="574.3" width="126.60" height="104.30" fill="none" stroke="#7a7a7a" stroke-width="1.1" />
<line x1="67.6" y1="678.6" x2="67.6" y2="680.2" stroke="#666" stroke-width="0.6" />
<line x1="80.28999999999999" y1="678.6" x2="80.28999999999999" y2="680.2" stroke="#666" stroke-width="0.6" />
<line x1="92.97999999999999" y1="678.6" x2="92.97999999999999" y2="680.2" stroke="#666" stroke-width="0.6" />
<line x1="105.67" y1="678.6" x2="105.67" y2="680.2" stroke="#666" stroke-width="0.6" />
<line x1="118.36" y1="678.6" x2="118.36" y2="680.2" stroke="#666" stroke-width="0.6" />
<line x1="131.05" y1="678.6" x2="131.05" y2="680.2" stroke="#666" stroke-width="0.6" />
<line x1="143.74" y1="678.6" x2="143.74" y2="680.2" stroke="#666" stroke-width="0.6" />
<line x1="156.43" y1="678.6" x2="156.43" y2="680.2" stroke="#666" stroke-width="0.6" />
<line x1="169.12" y1="678.6" x2="169.12" y2="680.2" stroke="#666" stroke-width="0.6" />
<line x1="53.300000000000004" y1="574.3" x2="55.1" y2="574.3" stroke="#555" stroke-width="0.6" />
<text x="47.0" y="576.3" font-size="6.4" font-weight="normal" text-anchor="middle" fill="#222" stroke="#222" stroke-width="0.1" >1</text>
<line x1="53.300000000000004" y1="589.1999999999999" x2="55.1" y2="589.1999999999999" stroke="#555" stroke-width="0.6" />
<text x="39.3" y="591.6999999999999" font-size="6.8" font-weight="normal" text-anchor="start" fill="#222" stroke="#222" stroke-width="0.1" >10<tspan dy="-2.6" font-size="4.8">-1</tspan></text>
<line x1="53.300000000000004" y1="604.1" x2="55.1" y2="604.1" stroke="#555" stroke-width="0.6" />
<text x="39.3" y="606.6" font-size="6.8" font-weight="normal" text-anchor="start" fill="#222" stroke="#222" stroke-width="0.1" >10<tspan dy="-2.6" font-size="4.8">-2</tspan></text>
<line x1="53.300000000000004" y1="619.0" x2="55.1" y2="619.0" stroke="#555" stroke-width="0.6" />
<text x="39.3" y="621.5" font-size="6.8" font-weight="normal" text-anchor="start" fill="#222" stroke="#222" stroke-width="0.1" >10<tspan dy="-2.6" font-size="4.8">-3</tspan></text>
<line x1="53.300000000000004" y1="633.9" x2="55.1" y2="633.9" stroke="#555" stroke-width="0.6" />
<text x="39.3" y="636.4" font-size="6.8" font-weight="normal" text-anchor="start" fill="#222" stroke="#222" stroke-width="0.1" >10<tspan dy="-2.6" font-size="4.8">-4</tspan></text>
<line x1="53.300000000000004" y1="648.8" x2="55.1" y2="648.8" stroke="#555" stroke-width="0.6" />
<text x="39.3" y="651.3" font-size="6.8" font-weight="normal" text-anchor="start" fill="#222" stroke="#222" stroke-width="0.1" >10<tspan dy="-2.6" font-size="4.8">-5</tspan></text>
<line x1="53.300000000000004" y1="663.7" x2="55.1" y2="663.7" stroke="#555" stroke-width="0.6" />
<text x="39.3" y="666.2" font-size="6.8" font-weight="normal" text-anchor="start" fill="#222" stroke="#222" stroke-width="0.1" >10<tspan dy="-2.6" font-size="4.8">-6</tspan></text>
<line x1="53.300000000000004" y1="678.6" x2="55.1" y2="678.6" stroke="#555" stroke-width="0.6" />
<text x="39.3" y="681.1" font-size="6.8" font-weight="normal" text-anchor="start" fill="#222" stroke="#222" stroke-width="0.1" >10<tspan dy="-2.6" font-size="4.8">-7</tspan></text>
<rect x="158.8" y="578.5" width="10.20" height="3.00" fill="#000" stroke="none" stroke-width="1.35" />
<text x="171.9" y="582.0" font-size="4.9" font-weight="normal" text-anchor="start" fill="#333" stroke="#333" stroke-width="0.1" >2h</text>
<rect x="158.9" y="584.9" width="10.00" height="3.20" fill="#fff" stroke="#888" stroke-width="0.6" />
<text x="171.9" y="587.8000000000001" font-size="4.9" font-weight="normal" text-anchor="start" fill="#333" stroke="#333" stroke-width="0.1" >48h</text>
<text x="68.5" y="685.4" dy="2.0" font-size="5.6" text-anchor="middle" fill="#222" transform="rotate(-45 68.5 685.4)">Env</text>
<text x="80.6" y="685.7" dy="2.0" font-size="5.6" text-anchor="middle" fill="#222" transform="rotate(-45 80.6 685.7)">Gag</text>
<text x="92.7" y="688.1" dy="2.0" font-size="5.6" text-anchor="middle" fill="#222" transform="rotate(-45 92.7 688.1)">Taxrex</text>
<text x="105.5" y="690.1" dy="2.0" font-size="5.6" text-anchor="middle" fill="#222" transform="rotate(-45 105.5 690.1)">Hbz sp1</text>
<text x="118.5" y="689.8" dy="2.0" font-size="5.6" text-anchor="middle" fill="#222" transform="rotate(-45 118.5 689.8)">Hbz us</text>
<text x="130.8" y="689.4" dy="2.0" font-size="5.6" text-anchor="middle" fill="#222" transform="rotate(-45 130.8 689.4)">p21Rex</text>
<text x="143.6" y="686.1" dy="2.0" font-size="5.6" text-anchor="middle" fill="#222" transform="rotate(-45 143.6 686.1)">p13</text>
<text x="156.4" y="686.4" dy="2.0" font-size="5.6" text-anchor="middle" fill="#222" transform="rotate(-45 156.4 686.4)">p12</text>
<text x="168.8" y="689.1" dy="2.0" font-size="5.6" text-anchor="middle" fill="#222" transform="rotate(-45 168.8 689.1)">p30Tof</text>
<text x="32.8" y="627.25" font-size="9.15" text-anchor="middle" fill="#111" transform="rotate(-90 32.8 627.25)" dy="3.1">Normalized Copy Number</text>
<rect x="213.8" y="574.7" width="116.00" height="104.00" fill="none" stroke="#858585" stroke-width="1.1" />
<rect x="248.0" y="586.3" width="20.30" height="66.70" fill="#c8c8c8" stroke="none" stroke-width="1.35" />
<line x1="212.0" y1="678.7" x2="213.8" y2="678.7" stroke="#555" stroke-width="0.6" />
<text x="211.70000000000002" y="681.1" font-size="6.9" font-weight="normal" text-anchor="end" fill="#222" stroke="#222" stroke-width="0.1" >0.0</text>
<line x1="212.0" y1="661.3666666666667" x2="213.8" y2="661.3666666666667" stroke="#555" stroke-width="0.6" />
<text x="211.70000000000002" y="663.7666666666667" font-size="6.9" font-weight="normal" text-anchor="end" fill="#222" stroke="#222" stroke-width="0.1" >0.2</text>
<line x1="212.0" y1="644.0333333333334" x2="213.8" y2="644.0333333333334" stroke="#555" stroke-width="0.6" />
<text x="211.70000000000002" y="646.4333333333334" font-size="6.9" font-weight="normal" text-anchor="end" fill="#222" stroke="#222" stroke-width="0.1" >0.4</text>
<line x1="212.0" y1="626.7" x2="213.8" y2="626.7" stroke="#555" stroke-width="0.6" />
<text x="211.70000000000002" y="629.1" font-size="6.9" font-weight="normal" text-anchor="end" fill="#222" stroke="#222" stroke-width="0.1" >0.6</text>
<line x1="212.0" y1="609.3666666666668" x2="213.8" y2="609.3666666666668" stroke="#555" stroke-width="0.6" />
<text x="211.70000000000002" y="611.7666666666668" font-size="6.9" font-weight="normal" text-anchor="end" fill="#222" stroke="#222" stroke-width="0.1" >0.8</text>
<line x1="212.0" y1="592.0333333333334" x2="213.8" y2="592.0333333333334" stroke="#555" stroke-width="0.6" />
<text x="211.70000000000002" y="594.4333333333334" font-size="6.9" font-weight="normal" text-anchor="end" fill="#222" stroke="#222" stroke-width="0.1" >1.0</text>
<line x1="212.0" y1="574.7" x2="213.8" y2="574.7" stroke="#555" stroke-width="0.6" />
<text x="211.70000000000002" y="577.1" font-size="6.9" font-weight="normal" text-anchor="end" fill="#222" stroke="#222" stroke-width="0.1" >1.2</text>
<line x1="222.20000000000002" y1="678.7" x2="222.20000000000002" y2="680.3000000000001" stroke="#555" stroke-width="0.6" />
<line x1="226.53600000000003" y1="678.7" x2="226.53600000000003" y2="680.3000000000001" stroke="#555" stroke-width="0.6" />
<line x1="235.20800000000003" y1="678.7" x2="235.20800000000003" y2="680.3000000000001" stroke="#555" stroke-width="0.6" />
<line x1="269.896" y1="678.7" x2="269.896" y2="680.3000000000001" stroke="#555" stroke-width="0.6" />
<line x1="321.928" y1="678.7" x2="321.928" y2="680.3000000000001" stroke="#555" stroke-width="0.6" />
<text x="221.8" y="687.0" font-size="6.8" font-weight="normal" text-anchor="middle" fill="#222" stroke="#222" stroke-width="0.1" >2</text>
<text x="226.33600000000004" y="687.0" font-size="6.8" font-weight="normal" text-anchor="middle" fill="#222" stroke="#222" stroke-width="0.1" >4</text>
<text x="235.20800000000003" y="687.0" font-size="6.8" font-weight="normal" text-anchor="middle" fill="#222" stroke="#222" stroke-width="0.1" >8</text>
<text x="269.896" y="687.0" font-size="6.8" font-weight="normal" text-anchor="middle" fill="#222" stroke="#222" stroke-width="0.1" >24</text>
<text x="325.128" y="687.98" font-size="6.8" font-weight="normal" text-anchor="middle" fill="#222" stroke="#222" stroke-width="0.1" >48</text>
<text x="289.1" y="695.1" font-size="10.6" font-weight="normal" text-anchor="start" fill="#111" stroke="#111" stroke-width="0.22" >hours</text>
<polyline points="222.10,673.50 226.41,657.90 235.03,645.77 269.51,592.03 321.23,592.90" fill="none" stroke="#e01010" stroke-width="2.0" stroke-linejoin="round"/>
<polyline points="222.10,673.50 226.41,626.70 235.03,614.57 269.51,609.37 321.23,592.03" fill="none" stroke="#000" stroke-width="2.0" stroke-linejoin="round"/>
<circle cx="222.10" cy="673.50" r="1.3" fill="#000"/>
<circle cx="226.41" cy="657.90" r="1.3" fill="#000"/>
<circle cx="235.03" cy="645.77" r="1.3" fill="#000"/>
<circle cx="269.51" cy="592.03" r="1.3" fill="#000"/>
<circle cx="321.23" cy="592.90" r="1.3" fill="#000"/>
<circle cx="222.10" cy="673.50" r="1.3" fill="#000"/>
<circle cx="226.41" cy="626.70" r="1.3" fill="#000"/>
<circle cx="235.03" cy="614.57" r="1.3" fill="#000"/>
<circle cx="269.51" cy="609.37" r="1.3" fill="#000"/>
<circle cx="321.23" cy="592.03" r="1.3" fill="#000"/>
<text x="195.8" y="625.60" font-size="9.1" text-anchor="middle" fill="#1a1a1a" transform="rotate(-90 195.8 625.60)" dy="3.2">Scaled&#8201; Copy Number</text>
<rect x="344.4" y="574.7" width="116.00" height="104.00" fill="none" stroke="#858585" stroke-width="1.1" />
<rect x="378.8" y="586.3" width="20.10" height="66.70" fill="#c8c8c8" stroke="none" stroke-width="1.35" />
<line x1="342.59999999999997" y1="678.7" x2="344.4" y2="678.7" stroke="#555" stroke-width="0.6" />
<text x="342.29999999999995" y="681.1" font-size="6.9" font-weight="normal" text-anchor="end" fill="#222" stroke="#222" stroke-width="0.1" >0.0</text>
<line x1="342.59999999999997" y1="661.3666666666667" x2="344.4" y2="661.3666666666667" stroke="#555" stroke-width="0.6" />
<text x="342.29999999999995" y="663.7666666666667" font-size="6.9" font-weight="normal" text-anchor="end" fill="#222" stroke="#222" stroke-width="0.1" >0.2</text>
<line x1="342.59999999999997" y1="644.0333333333334" x2="344.4" y2="644.0333333333334" stroke="#555" stroke-width="0.6" />
<text x="342.29999999999995" y="646.4333333333334" font-size="6.9" font-weight="normal" text-anchor="end" fill="#222" stroke="#222" stroke-width="0.1" >0.4</text>
<line x1="342.59999999999997" y1="626.7" x2="344.4" y2="626.7" stroke="#555" stroke-width="0.6" />
<text x="342.29999999999995" y="629.1" font-size="6.9" font-weight="normal" text-anchor="end" fill="#222" stroke="#222" stroke-width="0.1" >0.6</text>
<line x1="342.59999999999997" y1="609.3666666666668" x2="344.4" y2="609.3666666666668" stroke="#555" stroke-width="0.6" />
<text x="342.29999999999995" y="611.7666666666668" font-size="6.9" font-weight="normal" text-anchor="end" fill="#222" stroke="#222" stroke-width="0.1" >0.8</text>
<line x1="342.59999999999997" y1="592.0333333333334" x2="344.4" y2="592.0333333333334" stroke="#555" stroke-width="0.6" />
<text x="342.29999999999995" y="594.4333333333334" font-size="6.9" font-weight="normal" text-anchor="end" fill="#222" stroke="#222" stroke-width="0.1" >1.0</text>
<line x1="342.59999999999997" y1="574.7" x2="344.4" y2="574.7" stroke="#555" stroke-width="0.6" />
<text x="342.29999999999995" y="577.1" font-size="6.9" font-weight="normal" text-anchor="end" fill="#222" stroke="#222" stroke-width="0.1" >1.2</text>
<line x1="352.79999999999995" y1="678.7" x2="352.79999999999995" y2="680.3000000000001" stroke="#555" stroke-width="0.6" />
<line x1="357.13599999999997" y1="678.7" x2="357.13599999999997" y2="680.3000000000001" stroke="#555" stroke-width="0.6" />
<line x1="365.80799999999994" y1="678.7" x2="365.80799999999994" y2="680.3000000000001" stroke="#555" stroke-width="0.6" />
<line x1="400.496" y1="678.7" x2="400.496" y2="680.3000000000001" stroke="#555" stroke-width="0.6" />
<line x1="452.52799999999996" y1="678.7" x2="452.52799999999996" y2="680.3000000000001" stroke="#555" stroke-width="0.6" />
<text x="352.4" y="687.0" font-size="6.8" font-weight="normal" text-anchor="middle" fill="#222" stroke="#222" stroke-width="0.1" >2</text>
<text x="356.936" y="687.0" font-size="6.8" font-weight="normal" text-anchor="middle" fill="#222" stroke="#222" stroke-width="0.1" >4</text>
<text x="365.80799999999994" y="687.0" font-size="6.8" font-weight="normal" text-anchor="middle" fill="#222" stroke="#222" stroke-width="0.1" >8</text>
<text x="400.496" y="687.0" font-size="6.8" font-weight="normal" text-anchor="middle" fill="#222" stroke="#222" stroke-width="0.1" >24</text>
<text x="455.72799999999995" y="687.98" font-size="6.8" font-weight="normal" text-anchor="middle" fill="#222" stroke="#222" stroke-width="0.1" >48</text>
<text x="419.7" y="695.1" font-size="10.6" font-weight="normal" text-anchor="start" fill="#111" stroke="#111" stroke-width="0.22" >hours</text>
<polyline points="351.00,670.03 355.38,661.37 364.13,652.70 399.16,592.03" fill="none" stroke="#c4c4c4" stroke-width="2.0" stroke-linejoin="round"/>
<polyline points="351.00,665.70 355.38,663.97 364.13,658.77 399.16,592.03" fill="none" stroke="#740000" stroke-width="2.0" stroke-linejoin="round"/>
<polyline points="351.00,673.50 355.38,657.90 364.13,645.77 399.16,592.03" fill="none" stroke="#e01010" stroke-width="2.0" stroke-linejoin="round"/>
<polyline points="351.00,674.37 355.38,671.77 364.13,657.03 399.16,592.03" fill="none" stroke="#22dd22" stroke-width="2.0" stroke-linejoin="round"/>
<polyline points="351.00,670.03 355.38,661.37 364.13,640.57 399.16,598.10" fill="none" stroke="#f4c020" stroke-width="2.0" stroke-linejoin="round"/>
<polyline points="351.00,665.70 355.38,642.30 364.13,619.77 399.16,601.57" fill="none" stroke="#dd22dd" stroke-width="2.0" stroke-linejoin="round"/>
<polyline points="351.00,663.97 355.38,649.23 364.13,648.37 399.16,592.90" fill="none" stroke="#33eeee" stroke-width="2.0" stroke-linejoin="round"/>
<polyline points="351.00,674.37 355.38,665.70 364.13,657.90 399.16,610.23" fill="none" stroke="#0a0ad0" stroke-width="2.0" stroke-linejoin="round"/>
<polyline points="351.00,673.50 355.38,626.70 364.13,614.57 399.16,610.23" fill="none" stroke="#000" stroke-width="2.0" stroke-linejoin="round"/>
<polyline points="399.16,592.03 451.69,600.70" fill="none" stroke="#c4c4c4" stroke-width="2.0" stroke-linecap="round"/>
<polyline points="399.16,592.03 451.69,608.50" fill="none" stroke="#22dd22" stroke-width="2.0" stroke-linecap="round"/>
<polyline points="399.16,592.03 451.69,607.63" fill="none" stroke="#e01010" stroke-width="2.0" stroke-linecap="round"/>
<polyline points="399.16,592.03 451.69,606.77" fill="none" stroke="#740000" stroke-width="2.0" stroke-linecap="round"/>
<polyline points="399.16,598.10 451.69,592.90" fill="none" stroke="#f4c020" stroke-width="2.0" stroke-linecap="round"/>
<polyline points="399.16,601.57 451.69,592.03" fill="none" stroke="#dd22dd" stroke-width="2.0" stroke-linecap="round"/>
<polyline points="399.16,592.90 451.69,592.03" fill="none" stroke="#33eeee" stroke-width="2.0" stroke-linecap="round"/>
<polyline points="399.16,610.23 451.69,592.03" fill="none" stroke="#0a0ad0" stroke-width="2.0" stroke-linecap="round"/>
<polyline points="399.16,610.23 451.69,592.03" fill="none" stroke="#000" stroke-width="2.0" stroke-linecap="round"/>
<circle cx="351.00" cy="670.03" r="1.3" fill="#000"/>
<circle cx="355.38" cy="661.37" r="1.3" fill="#000"/>
<circle cx="364.13" cy="652.70" r="1.3" fill="#000"/>
<circle cx="399.16" cy="592.03" r="1.3" fill="#000"/>
<circle cx="451.69" cy="600.70" r="1.3" fill="#000"/>
<circle cx="351.00" cy="665.70" r="1.3" fill="#000"/>
<circle cx="355.38" cy="663.97" r="1.3" fill="#000"/>
<circle cx="364.13" cy="658.77" r="1.3" fill="#000"/>
<circle cx="399.16" cy="592.03" r="1.3" fill="#000"/>
<circle cx="451.69" cy="606.77" r="1.3" fill="#000"/>
<circle cx="351.00" cy="673.50" r="1.3" fill="#000"/>
<circle cx="355.38" cy="657.90" r="1.3" fill="#000"/>
<circle cx="364.13" cy="645.77" r="1.3" fill="#000"/>
<circle cx="399.16" cy="592.03" r="1.3" fill="#000"/>
<circle cx="451.69" cy="607.63" r="1.3" fill="#000"/>
<circle cx="351.00" cy="674.37" r="1.3" fill="#000"/>
<circle cx="355.38" cy="671.77" r="1.3" fill="#000"/>
<circle cx="364.13" cy="657.03" r="1.3" fill="#000"/>
<circle cx="399.16" cy="592.03" r="1.3" fill="#000"/>
<circle cx="451.69" cy="608.50" r="1.3" fill="#000"/>
<circle cx="351.00" cy="670.03" r="1.3" fill="#000"/>
<circle cx="355.38" cy="661.37" r="1.3" fill="#000"/>
<circle cx="364.13" cy="640.57" r="1.3" fill="#000"/>
<circle cx="399.16" cy="598.10" r="1.3" fill="#000"/>
<circle cx="451.69" cy="592.90" r="1.3" fill="#000"/>
<circle cx="351.00" cy="665.70" r="1.3" fill="#000"/>
<circle cx="355.38" cy="642.30" r="1.3" fill="#000"/>
<circle cx="364.13" cy="619.77" r="1.3" fill="#000"/>
<circle cx="399.16" cy="601.57" r="1.3" fill="#000"/>
<circle cx="451.69" cy="592.03" r="1.3" fill="#000"/>
<circle cx="351.00" cy="663.97" r="1.3" fill="#000"/>
<circle cx="355.38" cy="649.23" r="1.3" fill="#000"/>
<circle cx="364.13" cy="648.37" r="1.3" fill="#000"/>
<circle cx="399.16" cy="592.90" r="1.3" fill="#000"/>
<circle cx="451.69" cy="592.03" r="1.3" fill="#000"/>
<circle cx="351.00" cy="674.37" r="1.3" fill="#000"/>
<circle cx="355.38" cy="665.70" r="1.3" fill="#000"/>
<circle cx="364.13" cy="657.90" r="1.3" fill="#000"/>
<circle cx="399.16" cy="610.23" r="1.3" fill="#000"/>
<circle cx="451.69" cy="592.03" r="1.3" fill="#000"/>
<circle cx="351.00" cy="673.50" r="1.3" fill="#000"/>
<circle cx="355.38" cy="626.70" r="1.3" fill="#000"/>
<circle cx="364.13" cy="614.57" r="1.3" fill="#000"/>
<circle cx="399.16" cy="610.23" r="1.3" fill="#000"/>
<circle cx="451.69" cy="592.03" r="1.3" fill="#000"/>
<line x1="464.8" y1="611" x2="487.9" y2="611" stroke="#000" stroke-width="2.7" />
<text x="494.3" y="613.3" font-size="6.6" font-weight="normal" text-anchor="start" fill="#222" stroke="#222" stroke-width="0.1" >Taxrex</text>
<line x1="464.8" y1="619.4" x2="487.9" y2="619.4" stroke="#e01010" stroke-width="2.7" />
<text x="494.3" y="621.6999999999999" font-size="6.6" font-weight="normal" text-anchor="start" fill="#222" stroke="#222" stroke-width="0.1" >Gag</text>
<line x1="464.8" y1="627.8" x2="487.9" y2="627.8" stroke="#22dd22" stroke-width="2.7" />
<text x="494.3" y="630.0999999999999" font-size="6.6" font-weight="normal" text-anchor="start" fill="#222" stroke="#222" stroke-width="0.1" >Env</text>
<line x1="464.8" y1="637" x2="487.9" y2="637" stroke="#dd22dd" stroke-width="2.7" />
<text x="494.3" y="639.3" font-size="6.6" font-weight="normal" text-anchor="start" fill="#222" stroke="#222" stroke-width="0.1" >p21Rex</text>
<line x1="464.8" y1="645.8" x2="487.9" y2="645.8" stroke="#33eeee" stroke-width="2.7" />
<text x="494.3" y="648.0999999999999" font-size="6.6" font-weight="normal" text-anchor="start" fill="#222" stroke="#222" stroke-width="0.1" >p30Tof</text>
<line x1="464.8" y1="653.2" x2="487.9" y2="653.2" stroke="#f4c020" stroke-width="2.7" />
<text x="494.3" y="655.5" font-size="6.6" font-weight="normal" text-anchor="start" fill="#222" stroke="#222" stroke-width="0.1" >p13</text>
<line x1="464.8" y1="661.4" x2="487.9" y2="661.4" stroke="#0a0ad0" stroke-width="2.7" />
<text x="494.3" y="663.6999999999999" font-size="6.6" font-weight="normal" text-anchor="start" fill="#222" stroke="#222" stroke-width="0.1" >p12</text>
<line x1="464.8" y1="670.2" x2="487.9" y2="670.2" stroke="#c4c4c4" stroke-width="2.7" />
<text x="494.3" y="672.5" font-size="6.6" font-weight="normal" text-anchor="start" fill="#222" stroke="#222" stroke-width="0.1" >Hbz sp1</text>
<line x1="464.8" y1="678.3" x2="487.9" y2="678.3" stroke="#740000" stroke-width="2.7" />
<text x="494.3" y="680.5999999999999" font-size="6.6" font-weight="normal" text-anchor="start" fill="#222" stroke="#222" stroke-width="0.1" >Hbz us</text>
</svg></body></html>
